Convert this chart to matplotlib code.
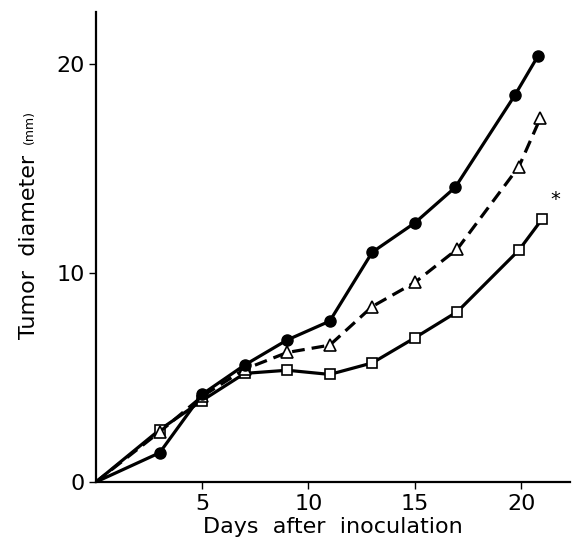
import numpy as np
import matplotlib
matplotlib.use("Agg")
import matplotlib.pyplot as plt

plt.rcParams['font.family'] = ['DejaVu Sans']

# days after inoculation and tumor diameter (mm) for the three groups
days_circle = [0, 3, 5, 7, 9, 11, 13, 15, 16.9, 19.7, 20.8]
diam_circle = [0, 1.4, 4.2, 5.6, 6.8, 7.7, 11.0, 12.4, 14.1, 18.5, 20.4]

days_tri = [0, 3, 5, 7, 9, 11, 13, 15, 17, 19.9, 20.9]
diam_tri = [0, 2.4, 4.1, 5.4, 6.2, 6.55, 8.4, 9.55, 11.15, 15.1, 17.4]

days_sq = [0, 3, 5, 7, 9, 11, 13, 15, 17, 19.9, 21.0]
diam_sq = [0, 2.5, 3.9, 5.2, 5.35, 5.15, 5.7, 6.9, 8.15, 11.1, 12.6]

fig = plt.figure(figsize=(5.74, 5.41), dpi=100)
ax = fig.add_axes([0.167, 0.109, 0.826, 0.869])

ax.plot(days_sq, diam_sq, color='black', lw=2.3, marker='s', markersize=7,
        markerfacecolor='white', markeredgecolor='black', markeredgewidth=1.2,
        markevery=list(range(1, len(days_sq))))
ax.plot(days_tri, diam_tri, color='black', lw=2.3, ls=(0, (4, 2.2)), marker='^',
        markersize=8, markerfacecolor='white', markeredgecolor='black',
        markeredgewidth=1.2, markevery=list(range(1, len(days_tri))))
ax.plot(days_circle, diam_circle, color='black', lw=2.3, marker='o', markersize=8,
        markerfacecolor='black', markevery=list(range(1, len(days_circle))))

ax.text(days_sq[-1] + 0.6, diam_sq[-1] + 0.9, '*', fontsize=14, ha='center', va='center')

ax.set_xlim(0, 22.3)
ax.set_ylim(0, 22.5)
ax.set_xticks([5, 10, 15, 20])
ax.set_yticks([0, 10, 20])
ax.tick_params(axis='both', labelsize=16, width=1, length=5, direction='out')
ax.tick_params(axis='y', pad=3)
for s in ['top', 'right']:
    ax.spines[s].set_visible(False)
for s in ['left', 'bottom']:
    ax.spines[s].set_linewidth(1.6)

ax.set_xlabel('Days  after  inoculation', fontsize=16, labelpad=2)
ax.set_ylabel('Tumor  diameter', fontsize=16)
ax.yaxis.set_label_coords(-0.12, 0.5)
fig.text(0.052, 0.766, '(mm)', fontsize=9, rotation=90, ha='center', va='center')

fig.savefig('out.png', dpi=100)
